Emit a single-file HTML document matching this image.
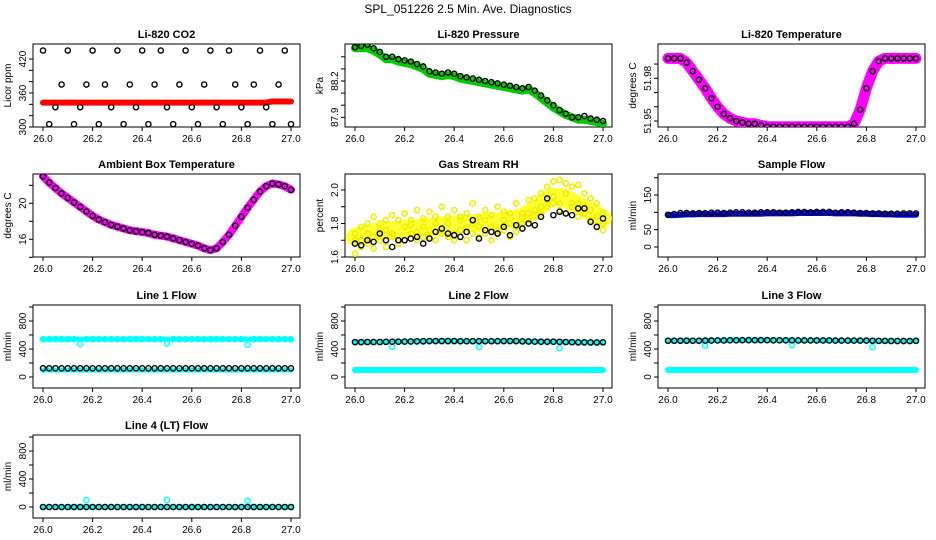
<!DOCTYPE html>
<html><head><meta charset="utf-8"><style>
body{margin:0;background:#fff;}
svg{display:block;font-family:"Liberation Sans",sans-serif;}
</style></head><body>
<svg id="chart" width="936" height="540" viewBox="0 0 936 540">
<text x="468" y="13" font-size="12" text-anchor="middle">SPL_051226  2.5 Min. Ave. Diagnostics</text>
</svg>
<script>
const T = [26.000,26.025,26.050,26.075,26.100,26.125,26.150,26.175,26.200,26.225,26.250,26.275,26.300,26.325,26.350,26.375,26.400,26.425,26.450,26.475,26.500,26.525,26.550,26.575,26.600,26.625,26.650,26.675,26.700,26.725,26.750,26.775,26.800,26.825,26.850,26.875,26.900,26.925,26.950,26.975,27.000];
const xTicks = [26.0,26.2,26.4,26.6,26.8,27.0];
const xTickLabels = ["26.0","26.2","26.4","26.6","26.8","27.0"];

const co2Black = [435,305,335,375,435,305,335,375,435,305,375,335,435,305,375,335,435,305,375,435,335,305,375,435,335,305,375,435,335,305,435,375,335,305,375,435,335,305,375,435,305];
const co2Red = [343,343,343,343,343,343,343,343,343,343,343,343,343,343,343,343,343,343,343,343,343,343,343,343,343,343,343,343,343,343,343,343,343,343,343,343,343,345,345,345,345];

const presGreen = [88.47,88.47,88.47,88.45,88.42,88.38,88.38,88.36,88.35,88.34,88.32,88.30,88.26,88.25,88.24,88.25,88.24,88.22,88.21,88.20,88.19,88.18,88.17,88.16,88.15,88.14,88.13,88.12,88.13,88.10,88.06,88.02,87.98,87.95,87.92,87.90,87.88,87.88,87.87,87.86,87.85];
const presBlack = [88.48,88.49,88.50,88.47,88.44,88.40,88.40,88.38,88.37,88.36,88.34,88.32,88.28,88.27,88.26,88.27,88.26,88.24,88.23,88.22,88.21,88.20,88.19,88.18,88.17,88.16,88.15,88.14,88.15,88.12,88.08,88.04,88.00,87.96,87.93,87.90,87.90,87.91,87.89,87.88,87.87];

const ltempMag = [51.994,51.994,51.994,51.991,51.985,51.979,51.973,51.966,51.960,51.955,51.952,51.950,51.949,51.948,51.948,51.947,51.946,51.946,51.946,51.946,51.946,51.946,51.946,51.946,51.946,51.946,51.946,51.946,51.946,51.946,51.948,51.958,51.973,51.985,51.992,51.994,51.994,51.994,51.994,51.994,51.994];

const ambMag = [23.0,22.3,21.7,21.1,20.6,20.1,19.6,19.1,18.6,18.2,17.9,17.6,17.4,17.2,17.0,16.9,16.8,16.7,16.5,16.4,16.3,16.1,15.9,15.7,15.5,15.3,15.0,14.8,15.0,15.7,16.5,17.5,18.5,19.5,20.4,21.3,21.9,22.2,22.1,21.9,21.5];

const rhYellowA = [1.62,1.78,1.74,1.84,1.80,1.76,1.85,1.82,1.86,1.79,1.88,1.83,1.87,1.80,1.90,1.84,1.88,1.82,1.86,1.92,1.84,1.88,1.85,1.90,1.87,1.86,1.92,1.86,1.94,1.95,1.98,2.02,2.05,2.06,2.04,2.02,2.03,1.98,1.95,1.92,1.80];
const rhYellowB = [1.74,1.70,1.80,1.72,1.76,1.82,1.74,1.70,1.78,1.82,1.75,1.78,1.72,1.84,1.76,1.80,1.74,1.84,1.78,1.80,1.78,1.82,1.78,1.76,1.82,1.80,1.78,1.84,1.82,1.88,1.90,1.94,1.96,1.92,1.98,1.90,1.92,1.90,1.88,1.84,1.86];
const rhYellowC = [1.70,1.66,1.68,1.65,1.70,1.66,1.72,1.68,1.70,1.74,1.70,1.72,1.76,1.70,1.74,1.72,1.70,1.76,1.70,1.74,1.72,1.74,1.70,1.74,1.76,1.72,1.75,1.80,1.86,1.84,1.86,1.90,1.92,1.88,1.86,1.92,1.84,1.86,1.82,1.78,1.76];
const rhYellowMid = [1.72,1.73,1.74,1.75,1.75,1.76,1.76,1.76,1.77,1.77,1.77,1.78,1.78,1.78,1.79,1.79,1.79,1.80,1.80,1.80,1.80,1.81,1.81,1.81,1.82,1.82,1.83,1.84,1.86,1.88,1.91,1.94,1.96,1.96,1.95,1.93,1.91,1.89,1.87,1.85,1.83];
const rhBlack = [1.68,1.67,1.70,1.69,1.74,1.70,1.66,1.70,1.70,1.71,1.72,1.68,1.71,1.75,1.77,1.74,1.73,1.72,1.75,1.82,1.71,1.76,1.75,1.74,1.78,1.73,1.79,1.77,1.80,1.79,1.84,1.95,1.85,1.87,1.86,1.85,1.89,1.89,1.81,1.78,1.83];

const sampleBlue = [92,92,93,94,94,95,95,95,95,95,96,96,96,96,96,96,97,97,97,97,97,98,98,98,98,98,98,97,97,97,97,96,96,95,95,94,94,93,93,93,93];
const sampleBlack = [93,95,98,98,97,98,98,99,99,98,99,100,100,99,99,100,100,100,99,99,100,101,101,100,101,101,101,99,100,100,99,98,98,97,97,96,96,96,97,97,97];

const line1Upper = [540,540,540,540,540,540,470,540,540,540,540,540,540,540,540,540,540,540,540,540,480,540,540,540,540,540,540,540,540,540,540,540,540,460,540,540,540,540,540,540,540];
const line1UpperBand = [540,540,540,540,540,540,540,540,540,540,540,540,540,540,540,540,540,540,540,540,540,540,540,540,540,540,540,540,540,540,540,540,540,540,540,540,540,540,540,540,540];
const line1Lower = [100,100,100,100,100,100,100,100,100,100,100,100,100,100,100,100,100,100,100,100,100,100,100,100,100,100,100,100,100,100,100,100,100,100,100,100,100,100,100,100,100];
const line1Black = [124,124,124,124,124,124,124,124,124,124,124,124,124,124,124,124,124,124,124,124,124,124,124,124,124,124,124,124,124,124,124,124,124,124,124,124,124,124,124,124,124];

const line2Upper = [500,500,500,500,500,500,430,505,505,505,505,505,510,510,510,510,510,510,510,510,430,510,510,510,510,510,510,505,505,505,500,500,500,410,495,495,490,490,490,490,495];
const line2Lower = [100,100,100,100,100,100,100,100,100,100,100,100,100,100,100,100,100,100,100,100,100,100,100,100,100,100,100,100,100,100,100,100,100,100,100,100,100,100,100,100,100];
const line2Black = [498,498,500,500,500,502,504,504,506,508,510,512,514,514,514,514,514,512,512,512,512,512,512,512,514,514,514,510,508,506,504,504,504,502,500,498,496,496,494,494,496];

const line3Upper = [520,520,520,520,520,520,450,525,525,525,530,530,530,530,530,530,530,525,525,525,455,525,525,525,525,525,525,525,522,520,520,520,520,425,518,515,515,515,515,515,520];
const line3Lower = [100,100,100,100,100,100,100,100,100,100,100,100,100,100,100,100,100,100,100,100,100,100,100,100,100,100,100,100,100,100,100,100,100,100,100,100,100,100,100,100,100];
const line3Black = [518,518,518,518,518,518,520,520,522,522,524,524,526,526,526,526,526,524,524,524,524,522,522,522,522,522,522,520,520,520,520,520,520,518,516,516,514,514,514,514,516];

const line4Cyan = [0,0,0,0,0,0,0,100,0,0,0,0,0,0,0,0,0,0,0,0,100,0,0,0,0,0,0,0,0,0,0,0,0,90,0,0,0,0,0,0,0];
const line4Black = [0,0,0,0,0,0,0,0,0,0,0,0,0,0,0,0,0,0,0,0,0,0,0,0,0,0,0,0,0,0,0,0,0,0,0,0,0,0,0,0,0];

const svg = document.getElementById('chart');
const NS = 'http://www.w3.org/2000/svg';
function mk(tag, attrs, parent){ const e=document.createElementNS(NS,tag); for(const k in attrs) e.setAttribute(k,attrs[k]); (parent||svg).appendChild(e); return e; }

const colX = [33,345,658];
const rowY = [44,174,305,435];
const W = 267, H = 83;

function panel(col,row,title,ytitle,a,pa,b,pb,yTicks,yLabels,name){
  const x0=colX[col], y0=rowY[row];
  const g = mk('g',{});
  
  
  const sx = t => x0+10+(t-26)*248;
  const sy = v => y0+pa+(v-a)*(pb-pa)/(b-a);
  const box = mk('rect',{x:x0,y:y0,width:W,height:H,fill:'none',stroke:'#000','stroke-width':1},g);
  
  
  const tt = mk('text',{x:x0+W/2,y:y0-6,'font-size':11,'font-weight':'bold','text-anchor':'middle'},g);
  tt.textContent = title;
  
  
  const xa = mk('g',{},g);
  
  
  mk('line',{x1:sx(xTicks[0]),x2:sx(xTicks[xTicks.length-1]),y1:y0+H,y2:y0+H,stroke:'#000'},xa);
  xTicks.forEach((t,i)=>{
    mk('line',{x1:sx(t),x2:sx(t),y1:y0+H,y2:y0+H+4,stroke:'#000'},xa);
    const l = mk('text',{x:sx(t),y:y0+H+15,'font-size':10,'text-anchor':'middle'},xa);
    l.textContent = xTickLabels[i];
  });
  const ya = mk('g',{},g);
  
  
  mk('line',{x1:x0,x2:x0,y1:sy(yTicks[0]),y2:sy(yTicks[yTicks.length-1]),stroke:'#000'},ya);
  yTicks.forEach((v,i)=>{
    const y=sy(v);
    mk('line',{x1:x0-4,x2:x0,y1:y,y2:y,stroke:'#000'},ya);
    if(yLabels[i]!==''){
      const l = mk('text',{x:x0-7,y:y,'font-size':10,'text-anchor':'middle',transform:`rotate(-90 ${x0-7} ${y})`},ya);
      l.textContent = yLabels[i];
    }
  });
  const yt = mk('text',{x:x0-22,y:y0+H/2,'font-size':10,'text-anchor':'middle',transform:`rotate(-90 ${x0-22} ${y0+H/2})`},g);
  yt.textContent = ytitle;
  
  
  const clipId='c'+name;
  const cp = mk('clipPath',{id:clipId},g); mk('rect',{x:x0,y:y0,width:W,height:H},cp);
  const data = mk('g',{'clip-path':`url(#${clipId})`},g);
  return {sx,sy,data};
}
function band(p,vals,color,w,name){
  const pts = vals.map((v,i)=>p.sx(T[i]).toFixed(1)+','+p.sy(v).toFixed(1)).join(' ');
  const pl = mk('polyline',{points:pts,fill:'none',stroke:color,'stroke-width':w,'stroke-linejoin':'round','stroke-linecap':'round'},p.data);
  
  
}
function dots(p,vals,color,name,r,sw){
  const g = mk('g',{},p.data);
  
  
  vals.forEach((v,i)=>{
    const c = mk('circle',{cx:p.sx(T[i]),cy:p.sy(v),r:r||2.6,fill:'none',stroke:color,'stroke-width':sw||1.4},g);
    
    
  });
}

let p = panel(0,0,'Li-820 CO2','Licor ppm',300,83,420,15,[300,320,340,360,380,400,420],['300','','','360','','','420'],'co2');
band(p,co2Red,'#f00',6,'co2-red-band');
dots(p,co2Black,'#000','co2-black');

p = panel(1,0,'Li-820 Pressure','kPa',87.9,73.3,88.2,37,[87.9,88.0,88.1,88.2,88.3,88.4],['87.9','','','88.2','',''],'pressure');
band(p,presGreen,'#0c0',8,'pressure-green-band');
dots(p,presBlack,'#000','pressure-black');

p = panel(2,0,'Li-820 Temperature','degrees C',51.95,77,51.98,34.3,[51.95,51.96,51.97,51.98,51.99],['51.95','','','51.98',''],'li820-temp');
band(p,ltempMag,'#f0f',11,'li820-temp-magenta-band');
dots(p,ltempMag,'#000','li820-temp-black');

p = panel(0,1,'Ambient Box Temperature','degrees C',16,65.3,20,29.3,[14,16,18,20,22],['','16','','20',''],'ambient');
band(p,ambMag,'#f0f',8,'ambient-magenta-band');
dots(p,ambMag,'#000','ambient-black');

p = panel(1,1,'Gas Stream RH','percent',1.6,83,2.0,16,[1.6,1.7,1.8,1.9,2.0],['1.6','','1.8','','2.0'],'rh');
band(p,rhYellowMid,'#ff3',18,'rh-yellow-band');
dots(p,rhYellowA,'#ee0','rh-yellow-a',2.6,1.6);
dots(p,rhYellowB,'#ee0','rh-yellow-b',2.6,1.6);
dots(p,rhYellowC,'#ee0','rh-yellow-c',2.6,1.6);
dots(p,rhBlack,'#000','rh-black');

p = panel(2,1,'Sample Flow','ml/min',0,73,150,21,[0,50,100,150,200],['0','50','','150',''],'sample-flow');
band(p,sampleBlue,'#00f',6,'sample-flow-blue-band');
dots(p,sampleBlack,'#000','sample-flow-black');

const flowTicks=[0,200,400,600,800,1000], flowLabels=['0','','400','','800',''];
p = panel(0,2,'Line 1 Flow','ml/min',0,72,800,16,flowTicks,flowLabels,'line1');
band(p,line1UpperBand,'#0ff',5,'line1-cyan-upper-band');
dots(p,line1Upper,'#0ff','line1-cyan-upper');
band(p,line1Lower,'#0ff',5,'line1-cyan-lower-band');
dots(p,line1Black,'#000','line1-black');

p = panel(1,2,'Line 2 Flow','ml/min',0,72,800,16,flowTicks,flowLabels,'line2');
band(p,line2Lower,'#0ff',6,'line2-cyan-lower-band');
band(p,line2Black,'#0ff',5,'line2-cyan-upper-band');
dots(p,line2Upper,'#0ff','line2-cyan-upper');
dots(p,line2Black,'#000','line2-black');

p = panel(2,2,'Line 3 Flow','ml/min',0,72,800,16,flowTicks,flowLabels,'line3');
band(p,line3Lower,'#0ff',6,'line3-cyan-lower-band');
band(p,line3Black,'#0ff',5,'line3-cyan-upper-band');
dots(p,line3Upper,'#0ff','line3-cyan-upper');
dots(p,line3Black,'#000','line3-black');

p = panel(0,3,'Line 4 (LT) Flow','ml/min',0,72,800,16,flowTicks,flowLabels,'line4');
band(p,line4Black,'#0ff',5,'line4-cyan-band');
dots(p,line4Cyan,'#0ff','line4-cyan');
dots(p,line4Black,'#000','line4-black');
</script>
</body></html>
